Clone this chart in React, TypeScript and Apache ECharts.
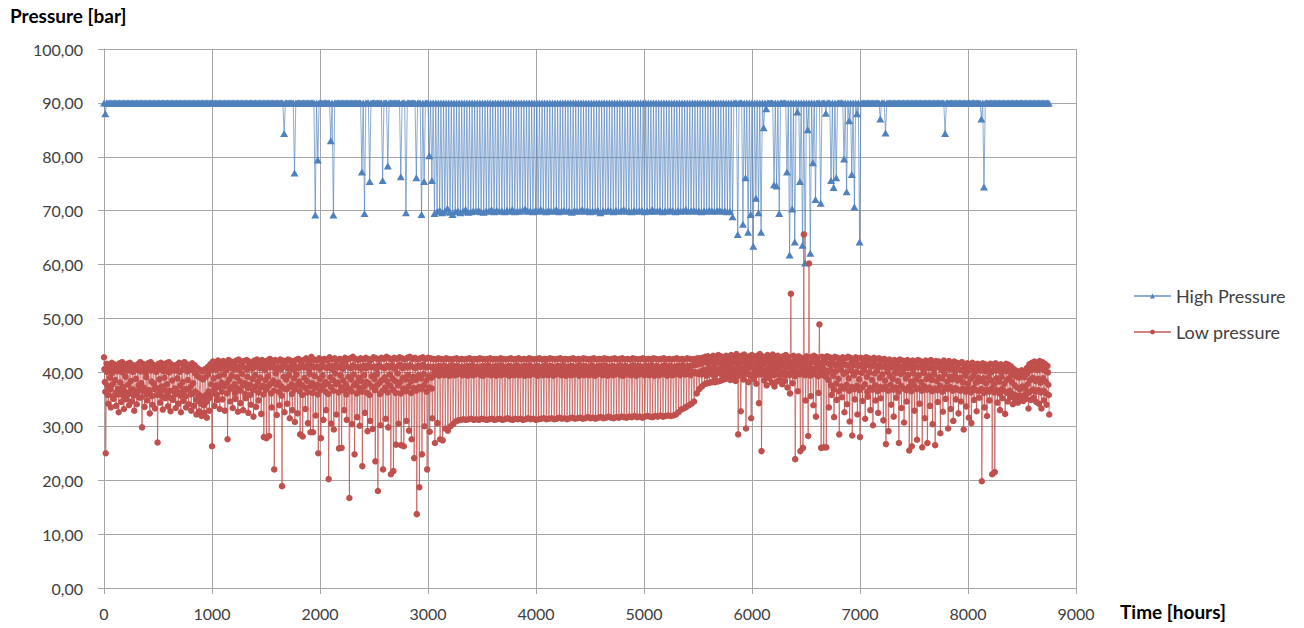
import React, { useEffect, useRef } from "react";
import * as echarts from "echarts";

// ---------------------------------------------------------------------------
// Compressor pressures over one year of operation, several readings per day.
// ---------------------------------------------------------------------------

const SERIES_NAMES = ["High Pressure", "Low pressure"];
const X_TICKS = [0, 1000, 2000, 3000, 4000, 5000, 6000, 7000, 8000, 9000];
const Y_TICKS = [0, 10, 20, 30, 40, 50, 60, 70, 80, 90, 100];

const HOURS_PER_DAY = 24;
const DAYS = 365;

// High pressure sits at its set point except on the days listed below.
const HP_NOMINAL = 90;

// [day, lowest reading of that day] for isolated drops
const hpDips: [number, number][] = [
  [0, 88.0], [69, 84.3], [73, 77.0], [81, 69.2], [82, 79.4], [87, 83.0], [88, 69.2],
  [99, 77.2], [100, 69.5], [102, 75.4], [107, 75.6], [109, 78.3], [114, 76.3],
  [116, 69.6], [120, 76.1], [122, 69.3], [123, 75.4], [125, 80.2], [126, 75.6],
  [242, 68.9], [244, 65.6], [246, 67.5], [247, 76.1], [248, 66.0], [249, 69.3],
  [250, 63.4], [251, 72.3], [252, 69.6], [253, 66.0], [254, 85.4], [255, 88.9],
  [258, 74.8], [259, 74.6], [260, 69.5], [263, 77.2], [264, 61.8], [265, 70.3],
  [266, 64.2], [267, 88.3], [268, 75.4], [269, 63.6], [270, 60.3], [271, 85.0],
  [272, 62.1], [273, 78.9], [274, 72.1], [276, 71.4], [278, 88.1], [280, 75.6],
  [281, 74.3], [282, 76.1], [285, 79.6], [286, 73.5], [287, 86.7], [288, 76.7],
  [289, 70.7], [290, 88.0], [291, 64.2], [299, 87.0], [301, 84.4], [324, 84.3],
  [338, 87.0], [339, 74.4],
];

// Daily low while the plant cycles between 90 and 70 bar
const HP_CYCLE_FIRST_DAY = 127;
const hpCycleLows = [
  69.5, 69.8, 70.1, 69.6, 69.9, 70.4, 69.7, 69.3, 69.8, 70.0,
  69.6, 69.9, 70.2, 69.7, 69.8, 70.0, 69.9, 70.1, 69.8, 69.7,
  70.0, 69.9, 70.2, 69.8, 70.1, 69.9, 70.0, 69.8, 70.1, 69.9,
  70.2, 69.8, 70.0, 69.9, 70.1, 70.3, 69.9, 70.0, 69.8, 70.1,
  69.9, 70.2, 70.0, 69.8, 70.1, 69.9, 70.0, 70.2, 69.8, 70.0,
  70.1, 69.9, 70.0, 69.7, 70.1, 69.9, 70.0, 70.2, 69.9, 70.1,
  69.8, 70.0, 69.9, 70.1, 69.6, 70.0, 69.9, 70.1, 70.0, 69.8,
  70.1, 69.9, 70.0, 70.2, 69.9, 70.0, 69.8, 70.1, 69.9, 70.0,
  70.1, 69.8, 70.0, 69.9, 70.2, 69.9, 70.0, 70.1, 69.8, 70.0,
  69.9, 70.1, 70.0, 69.8, 70.1, 69.9, 70.0, 70.2, 69.9, 70.0,
  70.1, 69.9, 70.0, 69.8, 70.0, 69.9, 70.1, 70.0, 69.9, 70.0,
  70.1, 69.9, 70.0, 69.8, 69.9,
];

// Low pressure: five readings per day (day 0 .. 364) — maximum, upper,
// typical, lower and minimum
const lpDayMax = [
  42.8, 41.6, 41.2, 41.8, 41.5, 41.0, 41.7, 41.9, 41.3, 41.6,
  41.8, 41.4, 40.9, 41.5, 41.9, 41.6, 41.2, 41.7, 41.9, 41.4,
  41.1, 41.6, 41.8, 41.3, 41.7, 41.9, 41.5, 41.0, 41.4, 41.8,
  41.6, 41.9, 41.5, 41.2, 41.7, 41.3, 40.8, 40.5, 40.2, 40.6,
  41.0, 41.5, 42.0, 41.8, 42.2, 41.9, 42.1, 41.7, 42.3, 42.0,
  41.8, 42.2, 42.4, 41.9, 42.1, 42.3, 42.0, 41.8, 42.2, 42.4,
  42.1, 42.3, 41.9, 42.2, 42.5, 42.0, 42.3, 42.1, 42.4, 42.2,
  42.0, 42.4, 42.2, 41.9, 42.3, 42.5, 42.1, 42.3, 42.6, 42.2,
  42.9, 42.4, 42.2, 42.6, 42.3, 42.5, 42.2, 42.8, 42.4, 42.6,
  42.3, 42.5, 42.2, 42.7, 42.4, 42.6, 42.9, 42.5, 42.3, 42.6,
  42.4, 42.7, 42.5, 42.3, 42.8, 42.6, 42.4, 42.7, 42.5, 42.9,
  42.6, 42.4, 42.7, 42.5, 42.8, 42.6, 42.4, 42.7, 42.9, 42.5,
  42.7, 42.4, 42.6, 42.8, 42.5, 42.7, 42.6, 42.5, 42.4, 42.6,
  42.5, 42.4, 42.6, 42.5, 42.4, 42.5, 42.6, 42.4, 42.5, 42.4,
  42.5, 42.6, 42.4, 42.5, 42.4, 42.6, 42.5, 42.4, 42.5, 42.6,
  42.4, 42.5, 42.4, 42.6, 42.5, 42.4, 42.5, 42.6, 42.4, 42.5,
  42.6, 42.4, 42.5, 42.4, 42.6, 42.5, 42.4, 42.5, 42.6, 42.4,
  42.5, 42.4, 42.6, 42.5, 42.4, 42.5, 42.6, 42.4, 42.5, 42.4,
  42.5, 42.6, 42.4, 42.5, 42.4, 42.6, 42.5, 42.4, 42.5, 42.6,
  42.4, 42.5, 42.4, 42.6, 42.5, 42.4, 42.5, 42.6, 42.4, 42.5,
  42.6, 42.4, 42.5, 42.4, 42.6, 42.5, 42.4, 42.5, 42.6, 42.4,
  42.5, 42.4, 42.6, 42.5, 42.4, 42.5, 42.6, 42.4, 42.5, 42.4,
  42.5, 42.6, 42.4, 42.5, 42.4, 42.6, 42.5, 42.4, 42.5, 42.6,
  42.6, 42.7, 42.9, 43.0, 42.8, 43.1, 42.9, 43.2, 43.0, 42.8,
  43.1, 42.9, 43.2, 43.0, 43.4, 42.9, 43.1, 43.3, 42.8, 43.0,
  43.2, 42.9, 43.1, 43.4, 43.0, 42.8, 43.2, 43.0, 43.3, 42.9,
  43.1, 42.8, 43.0, 43.2, 42.9, 54.6, 43.1, 42.8, 43.0, 42.7,
  65.6, 43.0, 60.2, 42.9, 43.1, 42.8, 48.9, 42.9, 42.7, 43.0,
  42.8, 42.6, 42.9, 42.7, 42.5, 42.8, 42.6, 42.9, 42.7, 42.5,
  42.8, 42.6, 42.7, 42.5, 42.8, 42.6, 42.4, 42.7, 42.5, 42.6,
  42.3, 42.5, 42.2, 42.4, 42.1, 42.3, 42.0, 42.4, 42.2, 42.1,
  42.3, 42.0, 42.2, 41.9, 42.3, 42.1, 41.8, 42.2, 42.0, 42.3,
  41.9, 42.1, 42.0, 41.8, 42.2, 41.9, 42.1, 41.7, 42.0, 41.8,
  41.6, 41.9, 41.4, 41.7, 41.5, 41.8, 41.3, 41.6, 41.4, 41.7,
  41.5, 41.2, 41.6, 41.4, 41.7, 41.3, 41.5, 41.2, 41.6, 41.4,
  41.1, 40.6, 40.3, 40.1, 40.4, 40.2, 40.8, 41.5, 41.8, 42.0,
  41.7, 42.1, 41.9, 41.6, 41.2,
];

const lpDayUpper = [
  40.6, 40.1, 40.8, 39.9, 40.5, 40.2, 40.9, 40.0, 40.7, 40.3,
  40.8, 40.1, 40.4, 40.9, 40.2, 40.6, 40.0, 40.7, 40.3, 40.8,
  40.1, 40.5, 40.9, 40.2, 40.6, 40.0, 40.8, 40.3, 40.7, 40.1,
  40.5, 40.9, 40.2, 40.6, 40.4, 39.8, 39.3, 39.0, 38.7, 39.1,
  39.6, 40.4, 40.9, 40.5, 41.2, 40.7, 41.0, 40.4, 41.3, 40.8,
  40.6, 41.1, 40.5, 41.4, 40.9, 40.6, 41.2, 40.7, 41.0, 41.3,
  40.8, 41.1, 40.5, 41.2, 40.9, 41.4, 40.7, 41.0, 40.6, 41.3,
  41.0, 40.7, 41.2, 40.5, 41.1, 40.8, 41.4, 40.9, 41.2, 40.6,
  41.3, 40.9, 41.1, 40.7, 41.4, 41.0, 40.8, 41.2, 40.6, 41.3,
  40.9, 41.2, 40.7, 41.4, 41.0, 40.8, 41.3, 40.9, 41.1, 40.7,
  41.2, 40.8, 41.4, 40.9, 41.1, 40.7, 41.3, 41.0, 40.8, 41.2,
  40.9, 41.3, 40.7, 41.1, 41.4, 40.8, 41.2, 40.9, 41.3, 41.0,
  40.8, 41.2, 41.0, 41.4, 40.9, 41.1, 41.0, 41.1, 40.9, 41.2,
  41.0, 41.2, 40.9, 41.1, 41.3, 41.0, 41.2, 40.9, 41.1, 41.0,
  41.2, 40.9, 41.3, 41.0, 41.1, 40.9, 41.2, 41.0, 41.3, 41.1,
  40.9, 41.2, 41.0, 41.3, 41.1, 40.9, 41.2, 41.1, 41.0, 41.3,
  41.1, 41.0, 41.2, 40.9, 41.3, 41.0, 41.1, 41.2, 40.9, 41.1,
  41.3, 41.0, 41.2, 41.1, 40.9, 41.2, 41.0, 41.3, 41.1, 41.0,
  41.2, 41.1, 40.9, 41.3, 41.0, 41.2, 41.1, 41.0, 41.3, 40.9,
  41.1, 41.2, 41.0, 41.3, 41.1, 40.9, 41.2, 41.0, 41.1, 41.3,
  41.0, 41.2, 40.9, 41.1, 41.3, 41.0, 41.2, 41.1, 40.9, 41.2,
  41.1, 41.3, 41.0, 41.2, 40.9, 41.1, 41.3, 41.0, 41.2, 41.1,
  41.0, 41.2, 41.1, 41.3, 41.0, 41.2, 41.1, 41.3, 41.4, 41.5,
  41.6, 41.8, 42.0, 41.7, 42.1, 41.9, 42.2, 41.8, 42.0, 42.3,
  41.9, 42.1, 41.8, 42.2, 42.0, 41.7, 42.3, 41.9, 42.1, 41.8,
  42.2, 42.0, 41.7, 42.3, 41.9, 42.1, 41.8, 42.2, 42.0, 41.9,
  42.1, 41.8, 42.2, 41.9, 42.0, 41.7, 42.1, 41.9, 41.6, 42.0,
  41.8, 42.1, 41.7, 42.0, 41.9, 42.2, 41.8, 41.6, 42.0, 41.7,
  41.5, 41.8, 41.3, 41.6, 41.1, 41.7, 41.4, 41.2, 41.6, 41.3,
  41.7, 41.2, 41.5, 41.0, 41.6, 41.3, 41.1, 41.5, 41.2, 41.4,
  41.0, 41.3, 40.8, 41.2, 40.9, 41.4, 40.7, 41.1, 40.9, 41.3,
  40.8, 41.2, 40.6, 41.0, 40.9, 41.1, 40.7, 41.2, 40.8, 41.0,
  40.6, 40.9, 41.1, 40.5, 40.8, 41.0, 40.6, 40.9, 40.4, 40.8,
  40.5, 40.3, 40.7, 40.2, 40.6, 40.4, 40.1, 40.5, 40.3, 40.6,
  40.2, 40.5, 40.0, 40.4, 40.3, 40.6, 40.1, 40.4, 40.2, 40.5,
  39.9, 39.5, 39.2, 39.0, 39.3, 39.1, 39.7, 40.3, 40.6, 40.8,
  40.4, 40.9, 40.6, 40.3, 40.0,
];

const lpDayMid = [
  38.2, 37.5, 39.0, 37.8, 38.6, 36.9, 38.1, 37.3, 39.2, 37.7,
  38.4, 36.8, 38.8, 37.6, 38.0, 37.2, 39.1, 36.7, 38.3, 37.9,
  37.1, 38.7, 37.4, 39.0, 37.8, 36.6, 38.5, 37.0, 38.9, 37.5,
  38.2, 36.9, 38.6, 37.3, 38.0, 36.4, 36.0, 35.6, 35.2, 35.8,
  36.5, 37.8, 38.9, 37.6, 39.3, 38.1, 39.6, 37.9, 38.7, 39.4,
  37.8, 39.1, 38.4, 39.7, 38.0, 39.2, 37.7, 38.8, 39.5, 38.2,
  39.0, 37.5, 38.6, 39.3, 37.9, 38.5, 39.8, 38.1, 37.4, 39.2,
  38.7, 39.5, 37.8, 38.9, 39.6, 38.3, 37.6, 39.0, 38.4, 39.7,
  38.0, 39.3, 37.7, 38.8, 39.4, 38.2, 37.9, 39.1, 38.6, 39.8,
  38.1, 39.4, 38.5, 37.8, 39.2, 38.7, 39.6, 38.0, 39.0, 38.4,
  39.5, 38.2, 37.9, 39.3, 38.8, 39.7, 38.1, 38.6, 39.1, 38.3,
  39.6, 38.9, 38.4, 39.8, 38.2, 39.0, 38.7, 39.5, 38.3, 39.2,
  38.6, 39.4, 38.9, 39.7, 38.5, 39.3, 39.0, 39.5, 39.6, 39.4,
  39.7, 39.5, 39.6, 39.4, 39.7, 39.5, 39.6, 39.8, 39.5, 39.6,
  39.4, 39.7, 39.5, 39.6, 39.8, 39.5, 39.4, 39.7, 39.6, 39.5,
  39.7, 39.4, 39.6, 39.5, 39.8, 39.6, 39.4, 39.7, 39.5, 39.6,
  39.5, 39.7, 39.4, 39.6, 39.5, 39.8, 39.6, 39.4, 39.7, 39.5,
  39.6, 39.5, 39.7, 39.4, 39.6, 39.8, 39.5, 39.6, 39.4, 39.7,
  39.5, 39.6, 39.8, 39.4, 39.7, 39.5, 39.6, 39.5, 39.7, 39.4,
  39.6, 39.8, 39.5, 39.6, 39.4, 39.7, 39.5, 39.6, 39.8, 39.5,
  39.4, 39.7, 39.6, 39.5, 39.7, 39.4, 39.6, 39.8, 39.5, 39.6,
  39.5, 39.7, 39.4, 39.6, 39.5, 39.8, 39.6, 39.4, 39.7, 39.5,
  39.6, 39.7, 39.5, 39.8, 39.6, 39.7, 39.5, 39.9, 40.0, 39.8,
  40.2, 40.5, 40.1, 40.8, 40.4, 41.0, 40.6, 40.3, 40.9, 41.2,
  40.5, 41.1, 40.7, 40.4, 41.3, 40.8, 40.2, 41.0, 40.6, 41.4,
  40.9, 40.3, 41.1, 40.7, 41.5, 40.4, 40.8, 41.2, 40.5, 41.0,
  40.6, 41.3, 40.2, 40.9, 41.1, 40.4, 40.8, 40.1, 41.2, 40.6,
  40.9, 40.3, 41.0, 40.5, 40.7, 41.1, 40.2, 40.8, 40.4, 40.1,
  40.5, 39.4, 40.2, 38.8, 40.6, 39.7, 40.0, 38.9, 40.3, 39.5,
  40.1, 38.7, 39.9, 40.4, 39.2, 40.0, 38.6, 39.8, 40.3, 39.0,
  39.6, 38.5, 40.1, 39.3, 38.8, 39.9, 38.4, 39.7, 40.0, 38.9,
  39.5, 38.3, 39.8, 38.7, 39.4, 38.2, 39.9, 38.8, 39.3, 38.6,
  39.6, 38.4, 39.1, 38.9, 39.7, 38.3, 39.2, 38.7, 39.5, 38.5,
  39.0, 38.2, 39.4, 37.9, 38.8, 39.3, 38.1, 39.0, 38.4, 38.9,
  38.0, 39.1, 38.5, 37.8, 38.9, 38.3, 39.2, 37.9, 38.6, 39.0,
  38.2, 37.6, 37.2, 36.9, 37.4, 37.0, 37.8, 38.6, 39.0, 38.4,
  38.8, 38.1, 38.9, 38.3, 37.7,
];

const lpDayLower = [
  36.4, 35.8, 36.9, 35.5, 36.2, 35.9, 36.7, 35.6, 36.3, 36.0,
  36.8, 35.7, 36.1, 36.6, 35.4, 36.5, 35.9, 36.2, 35.6, 36.9,
  35.8, 36.4, 35.5, 36.7, 36.0, 35.3, 36.6, 35.9, 36.3, 35.7,
  36.5, 35.6, 36.8, 35.9, 36.2, 35.0, 34.6, 34.2, 33.9, 34.5,
  35.2, 36.0, 36.8, 35.9, 37.2, 36.4, 37.5, 36.1, 36.9, 37.3,
  36.2, 37.0, 36.6, 37.6, 36.0, 37.1, 35.8, 36.7, 37.4, 36.3,
  37.2, 35.9, 36.8, 37.5, 36.1, 36.6, 37.7, 36.4, 35.7, 37.0,
  36.9, 37.3, 36.0, 36.8, 37.6, 36.5, 35.8, 37.2, 36.3, 37.4,
  36.2, 37.1, 35.9, 36.7, 37.5, 36.4, 36.0, 37.3, 36.6, 37.8,
  36.3, 37.2, 36.7, 35.9, 37.0, 36.5, 37.6, 36.1, 37.1, 36.4,
  37.4, 36.2, 35.8, 37.3, 36.7, 37.7, 36.0, 36.6, 37.2, 36.3,
  37.5, 36.8, 36.2, 37.6, 36.1, 37.0, 36.5, 37.4, 36.2, 37.1,
  36.6, 37.3, 36.9, 37.6, 36.4, 37.2, 37.0, 40.2, 40.1, 40.3,
  40.2, 40.0, 40.3, 40.1, 40.4, 40.2, 40.0, 40.3, 40.1, 40.2,
  40.4, 40.1, 40.2, 40.0, 40.3, 40.2, 40.4, 40.1, 40.0, 40.3,
  40.2, 40.1, 40.4, 40.2, 40.0, 40.3, 40.1, 40.2, 40.4, 40.1,
  40.0, 40.3, 40.2, 40.1, 40.4, 40.2, 40.0, 40.3, 40.1, 40.2,
  40.3, 40.1, 40.2, 40.4, 40.0, 40.2, 40.3, 40.1, 40.2, 40.0,
  40.4, 40.2, 40.1, 40.3, 40.2, 40.0, 40.4, 40.1, 40.3, 40.2,
  40.1, 40.3, 40.0, 40.2, 40.4, 40.1, 40.2, 40.3, 40.0, 40.2,
  40.3, 40.1, 40.2, 40.0, 40.3, 40.4, 40.1, 40.2, 40.3, 40.1,
  40.2, 40.0, 40.3, 40.2, 40.1, 40.4, 40.2, 40.3, 40.1, 40.2,
  40.3, 40.1, 40.4, 40.2, 40.3, 40.1, 40.2, 40.0, 39.8, 39.7,
  39.6, 39.9, 39.4, 40.1, 39.7, 39.3, 39.8, 40.0, 39.5, 39.9,
  39.4, 39.8, 40.1, 39.6, 39.3, 39.9, 39.5, 40.0, 39.7, 39.4,
  39.8, 39.5, 40.1, 39.6, 39.9, 39.3, 39.7, 40.0, 39.5, 39.8,
  39.6, 40.0, 39.4, 39.8, 39.5, 39.9, 39.3, 39.7, 39.6, 39.9,
  39.5, 39.8, 39.4, 40.0, 39.6, 39.3, 39.7, 39.5, 39.2, 38.6,
  37.6, 36.8, 37.9, 36.5, 37.4, 37.0, 37.7, 36.6, 37.3, 36.9,
  37.5, 36.7, 37.2, 37.8, 36.4, 37.1, 36.8, 37.6, 36.5, 37.3,
  36.9, 37.4, 36.6, 37.7, 36.8, 37.2, 36.4, 37.5, 37.0, 36.7,
  37.3, 36.5, 37.6, 36.9, 37.1, 36.6, 37.4, 36.8, 37.2, 36.5,
  37.0, 36.7, 37.5, 36.4, 37.2, 36.9, 37.3, 36.6, 37.1, 36.8,
  36.6, 37.0, 36.4, 36.9, 36.3, 37.1, 36.7, 36.5, 36.9, 36.2,
  36.8, 36.4, 37.0, 36.3, 36.7, 36.1, 36.9, 36.5, 36.2, 36.6,
  36.0, 35.8, 35.5, 35.7, 35.4, 35.9, 36.2, 36.5, 36.8, 36.4,
  36.7, 36.3, 36.6, 36.1, 35.8,
];

const lpDayMin = [
  25.0, 34.2, 33.5, 35.1, 33.8, 32.6, 34.5, 33.2, 35.0, 33.9,
  34.6, 32.9, 34.1, 35.3, 29.8, 33.6, 34.8, 32.4, 34.0, 33.3,
  27.0, 34.4, 33.1, 35.2, 33.7, 32.8, 34.9, 33.4, 34.2, 32.6,
  34.7, 33.5, 34.1, 32.9, 33.8, 32.2, 32.8, 31.9, 32.5, 31.6,
  32.9, 26.3, 33.8, 34.9, 33.2, 35.0, 32.9, 27.6, 34.6, 33.4,
  35.1, 32.7, 34.3, 33.0, 35.2, 32.5, 34.0, 31.8, 33.6, 34.8,
  32.3, 28.0, 27.8, 28.2, 33.5, 22.0, 32.1, 33.9, 18.9, 32.6,
  34.2, 31.5, 33.0, 30.8, 32.4, 28.5, 28.1, 33.2, 30.6, 28.9,
  28.9, 32.0, 25.0, 27.8, 31.2, 33.0, 20.2, 30.5, 29.4, 32.2,
  25.9, 26.0, 33.0, 31.2, 16.7, 30.4, 24.8, 31.7, 30.1, 22.6,
  32.5, 29.1, 31.0, 29.5, 23.5, 18.0, 30.2, 22.0, 31.4, 29.8,
  21.1, 21.7, 26.6, 30.5, 26.5, 26.3, 31.0, 29.2, 27.6, 24.1,
  13.7, 18.7, 24.8, 30.0, 22.0, 29.0, 31.5, 26.9, 30.6, 27.6,
  27.4, 29.6, 29.2, 30.0, 30.4, 30.9, 31.1, 31.2, 31.3, 31.2,
  31.3, 31.4, 31.2, 31.3, 31.2, 31.4, 31.3, 31.2, 31.3, 31.4,
  31.2, 31.3, 31.4, 31.2, 31.3, 31.5, 31.3, 31.2, 31.4, 31.3,
  31.4, 31.2, 31.3, 31.5, 31.3, 31.4, 31.2, 31.3, 31.4, 31.5,
  31.3, 31.4, 31.5, 31.3, 31.4, 31.6, 31.4, 31.5, 31.3, 31.5,
  31.6, 31.4, 31.5, 31.6, 31.4, 31.5, 31.7, 31.5, 31.6, 31.4,
  31.6, 31.7, 31.5, 31.6, 31.8, 31.6, 31.5, 31.7, 31.6, 31.8,
  31.7, 31.6, 31.8, 31.7, 31.9, 31.7, 31.8, 31.6, 31.8, 31.9,
  31.8, 31.7, 31.9, 31.8, 32.0, 31.8, 31.9, 32.0, 31.9, 32.0,
  32.2, 32.6, 33.1, 33.3, 33.6, 33.9, 34.2, 34.6, 36.1, 36.9,
  37.4, 37.8, 38.0, 38.1, 38.2, 38.2, 38.3, 38.4, 38.6, 38.8,
  38.9, 38.6, 39.0, 38.4, 28.5, 32.8, 38.7, 29.6, 38.2, 31.5,
  38.8, 37.9, 34.3, 25.4, 38.5, 37.6, 38.9, 38.1, 37.4, 38.3,
  38.6, 37.8, 38.4, 37.2, 36.1, 38.0, 23.9, 36.5, 25.4, 26.0,
  34.8, 28.2, 35.6, 33.9, 31.8, 36.2, 26.0, 26.1, 26.1, 33.5,
  35.8, 31.7, 34.9, 28.5, 35.4, 32.6, 34.1, 30.9, 28.3, 35.0,
  32.2, 28.0, 34.7, 31.4, 35.5, 33.0, 30.2, 34.8, 32.5, 35.2,
  31.1, 26.7, 29.1, 34.0, 31.8, 35.3, 26.9, 33.4, 30.7, 34.6,
  25.5, 26.3, 32.9, 27.5, 34.2, 26.1, 31.5, 26.9, 33.8, 30.4,
  26.5, 34.5, 28.7, 32.7, 35.1, 29.6, 33.2, 31.0, 35.0, 32.4,
  34.6, 29.4, 33.7, 31.6, 30.6, 34.9, 32.8, 35.3, 19.8, 33.5,
  31.9, 34.8, 21.1, 21.5, 34.4, 33.0, 35.2, 32.3, 34.6, 35.4,
  34.1, 35.0, 34.4, 35.2, 34.7, 35.1, 33.3, 34.9, 35.3, 34.5,
  34.2, 33.3, 34.8, 34.0, 32.2,
];

// Reading times within a day (hours after midnight)
const LP_READING_HOURS = [0, 4, 8, 12, 16];
const HP_READING_HOURS = [0, 12];

const BLUE = "#4F81BD";
const RED = "#C0504D";
const GRID_GRAY = "#a6a6a6";
const LABEL_COLOR = "#404040";
const FONT = "Lato, 'Open Sans', sans-serif";

function buildHighPressure(): [number, number][] {
  const lows = new Map<number, number>(hpDips);
  hpCycleLows.forEach((v, i) => lows.set(HP_CYCLE_FIRST_DAY + i, v));
  const pts: [number, number][] = [];
  for (let d = 0; d < DAYS; d++) {
    const t = d * HOURS_PER_DAY;
    pts.push([t + HP_READING_HOURS[0], HP_NOMINAL]);
    pts.push([t + HP_READING_HOURS[1], lows.get(d) ?? HP_NOMINAL]);
  }
  return pts;
}

function buildLowPressure(): [number, number][] {
  const readings = [lpDayMax, lpDayUpper, lpDayMid, lpDayLower, lpDayMin];
  const n = Math.min(DAYS, ...readings.map((r) => r.length));
  const pts: [number, number][] = [];
  for (let d = 0; d < n; d++) {
    const t = d * HOURS_PER_DAY;
    readings.forEach((r, k) => pts.push([t + LP_READING_HOURS[k], r[d]]));
  }
  return pts;
}

const fmtComma = (v: number) => v.toFixed(2).replace(".", ",");
const fmtPlain = (v: number) => String(v);

export default function App() {
  const ref = useRef<HTMLDivElement>(null);

  useEffect(() => {
    if (!ref.current) return;
    const chart = echarts.init(ref.current, undefined, { renderer: "svg" });

    chart.setOption({
      animation: false,
      backgroundColor: "#ffffff",
      textStyle: { fontFamily: FONT },
      grid: {
        left: 104,
        right: 228,
        top: 49,
        bottom: 40,
        containLabel: false,
        outerBoundsMode: "none",
      },
      legend: {
        data: SERIES_NAMES,
        orient: "vertical",
        left: 1128,
        top: 282,
        itemWidth: 37,
        itemHeight: 6,
        itemGap: 18,
        textStyle: { fontFamily: FONT, fontSize: 18, color: LABEL_COLOR },
      },
      xAxis: {
        type: "value",
        min: X_TICKS[0],
        max: X_TICKS[X_TICKS.length - 1],
        interval: X_TICKS[1] - X_TICKS[0],
        axisLine: { show: true, lineStyle: { color: GRID_GRAY, width: 1 } },
        axisTick: { show: true, length: 6, lineStyle: { color: GRID_GRAY } },
        axisLabel: { margin: 17, color: LABEL_COLOR, fontSize: 16, fontFamily: FONT, formatter: fmtPlain },
        splitLine: { show: true, lineStyle: { color: GRID_GRAY, width: 1 } },
      },
      yAxis: {
        type: "value",
        min: Y_TICKS[0],
        max: Y_TICKS[Y_TICKS.length - 1],
        interval: Y_TICKS[1] - Y_TICKS[0],
        axisLine: { show: true, lineStyle: { color: GRID_GRAY, width: 1 } },
        axisTick: { show: true, length: 6, lineStyle: { color: GRID_GRAY } },
        axisLabel: { margin: 21, color: LABEL_COLOR, fontSize: 16, fontFamily: FONT, formatter: fmtComma },
        splitLine: { show: true, lineStyle: { color: GRID_GRAY, width: 1 } },
      },
      graphic: [
        {
          type: "text",
          left: 10,
          top: 6,
          style: { text: "Pressure [bar]", font: `bold 19px ${FONT}`, fill: "#000000" },
        },
        {
          type: "text",
          left: 1120,
          top: 602,
          style: { text: "Time [hours]", font: `bold 19px ${FONT}`, fill: "#000000" },
        },
      ],
      series: [
        {
          name: SERIES_NAMES[0],
          type: "line",
          data: buildHighPressure(),
          symbol: "triangle",
          symbolSize: [8, 7],
          showAllSymbol: true,
          silent: true,
          color: BLUE,
          itemStyle: { color: BLUE },
          lineStyle: { color: BLUE, width: 1, opacity: 0.65 },
        },
        {
          name: SERIES_NAMES[1],
          type: "line",
          data: buildLowPressure(),
          symbol: "circle",
          symbolSize: 6.5,
          showAllSymbol: true,
          silent: true,
          color: RED,
          itemStyle: { color: RED },
          lineStyle: { color: RED, width: 1, opacity: 0.7 },
        },
      ],
    });

    return () => chart.dispose();
  }, []);

  return (
    <div
      ref={ref}
      style={{ position: "fixed", left: 0, top: 0, width: 1304, height: 628, background: "#fff" }}
    />
  );
}
